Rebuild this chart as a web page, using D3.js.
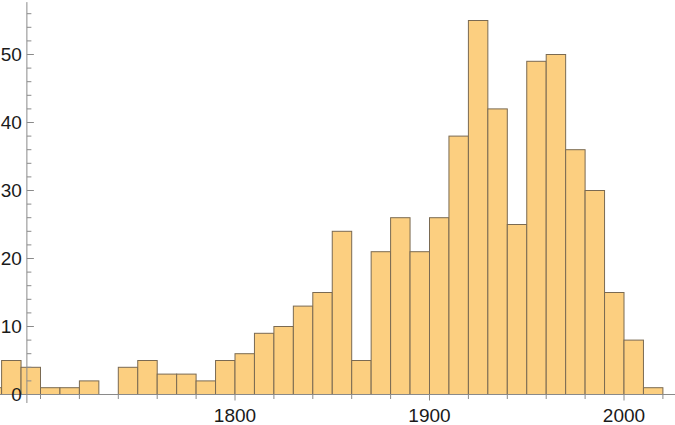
<!DOCTYPE html>
<html>
<head>
<meta charset="utf-8">
<script src="https://cdn.jsdelivr.net/npm/d3@7"></script>
<style>
  body { margin: 0; background: #fff; }
  svg { display: block; }
  .tick-label { font-family: "Liberation Sans", Arial, sans-serif; font-size: 19px; fill: #1a1a1a; }
</style>
</head>
<body>
<div id="chart"></div>
<script>
// histogram bins (decade start) and counts
const binStarts = [1670, 1680, 1690, 1700, 1710, 1720, 1730, 1740, 1750, 1760, 1770, 1780, 1790,
    1800, 1810, 1820, 1830, 1840, 1850, 1860, 1870, 1880, 1890,
    1900, 1910, 1920, 1930, 1940, 1950, 1960, 1970, 1980, 1990, 2000, 2010];
const counts = [1, 5, 4, 1, 1, 2, 0, 4, 5, 3, 3, 2, 5,
    6, 9, 10, 13, 15, 24, 5, 21, 26, 21,
    26, 38, 55, 42, 25, 49, 50, 36, 30, 15, 8, 1];
const binWidth = 10;

const xMajorTicks = [1800, 1900, 2000];
const xMinorTicks = [1700, 1720, 1740, 1760, 1780, 1820, 1840, 1860, 1880, 1920, 1940, 1960, 1980, 2020];
const yMajorTicks = [0, 10, 20, 30, 40, 50];
const yMinorTicks = [2, 4, 6, 8, 12, 14, 16, 18, 22, 24, 26, 28, 32, 34, 36, 38, 42, 44, 46, 48, 52, 54, 56];

const width = 675;
const height = 425;

// axis crossing (year where y axis sits) and top of the y range
const axisYear = 1693;
const yTop = 57.7;

const x = d3.scaleLinear()
    .domain([1800, 2000])
    .range([235, 624]);

const y = d3.scaleLinear()
    .domain([0, 50])
    .range([394.5, 54.5]);

const svg = d3.select('#chart').append('svg')
    .attr('width', width)
    .attr('height', height);

// bars
svg.append('g')
    .selectAll('rect')
    .data(binStarts.map((b, i) => ({ start: b, count: counts[i] })).filter(d => d.count > 0))
    .join('rect')
    .attr('x', d => x(d.start))
    .attr('y', d => y(d.count))
    .attr('width', d => x(d.start + binWidth) - x(d.start))
    .attr('height', d => y(0) - y(d.count))
    .attr('fill', '#fccf80')
    .attr('stroke', '#7a6a52')
    .attr('stroke-width', 1);

const axisColor = '#8a8a8a';
const axes = svg.append('g');

// x axis line
axes.append('line')
    .attr('x1', 0).attr('x2', width)
    .attr('y1', y(0)).attr('y2', y(0))
    .attr('stroke', axisColor);

// y axis line (runs a little below the x axis)
axes.append('line')
    .attr('x1', x(axisYear)).attr('x2', x(axisYear))
    .attr('y1', y(yTop)).attr('y2', y(0) + 8.5)
    .attr('stroke', axisColor);

// x ticks point down
axes.selectAll('.xmaj')
    .data(xMajorTicks)
    .join('line')
    .attr('x1', d => x(d)).attr('x2', d => x(d))
    .attr('y1', y(0)).attr('y2', y(0) + 6)
    .attr('stroke', axisColor);

axes.selectAll('.xmin')
    .data(xMinorTicks)
    .join('line')
    .attr('class', 'xmin')
    .attr('x1', d => x(d)).attr('x2', d => x(d))
    .attr('y1', y(0)).attr('y2', y(0) + 4.5)
    .attr('stroke', axisColor);

// y ticks point right
axes.selectAll('.ymaj')
    .data(yMajorTicks.filter(d => d > 0))
    .join('line')
    .attr('class', 'ymaj')
    .attr('x1', x(axisYear)).attr('x2', x(axisYear) + 7)
    .attr('y1', d => y(d)).attr('y2', d => y(d))
    .attr('stroke', axisColor);

axes.selectAll('.ymin')
    .data(yMinorTicks)
    .join('line')
    .attr('class', 'ymin')
    .attr('x1', x(axisYear)).attr('x2', x(axisYear) + 4.5)
    .attr('y1', d => y(d)).attr('y2', d => y(d))
    .attr('stroke', axisColor);

// labels
svg.selectAll('.xlab')
    .data(xMajorTicks)
    .join('text')
    .attr('class', 'tick-label')
    .attr('x', d => x(d))
    .attr('y', y(0) + 27)
    .attr('text-anchor', 'middle')
    .text(d => d);

svg.selectAll('.ylab')
    .data(yMajorTicks)
    .join('text')
    .attr('class', 'tick-label')
    .attr('x', x(axisYear) - 5)
    .attr('y', d => y(d) + 6.5)
    .attr('text-anchor', 'end')
    .text(d => d);
</script>
</body>
</html>
